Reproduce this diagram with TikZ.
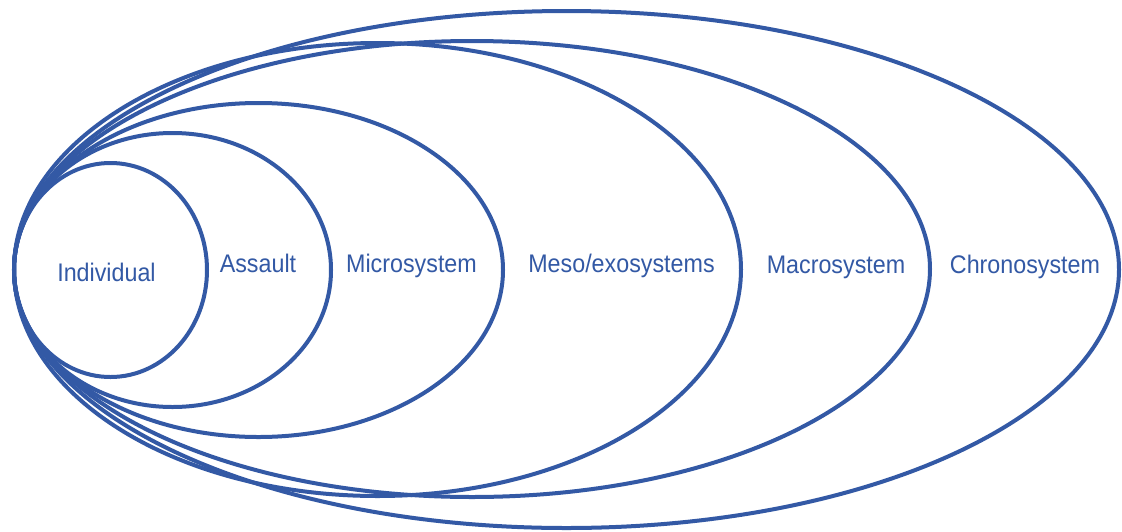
\documentclass[tikz,border=0pt]{standalone}
\usepackage{fontspec}
\setmainfont{Liberation Sans}
\definecolor{ringblue}{RGB}{51,89,165}
\begin{document}
\begin{tikzpicture}[x=1pt,y=-1pt,
  ring/.style={draw=ringblue, line width=4pt},
  lbl/.style={text=ringblue, font=\fontsize{24}{28}\selectfont, inner sep=0pt, anchor=base}]
\useasboundingbox (0,0) rectangle (1122,531);
\fill[white] (0,0) rectangle (1122,531);
% nested systems
\draw[ring] (566.5,269.5) ellipse [x radius=552.5pt, y radius=258.5pt];
\draw[ring] (472,269) ellipse [x radius=458pt, y radius=228pt];
\draw[ring] (377.5,269.5) ellipse [x radius=363.5pt, y radius=226.5pt];
\draw[ring] (258.5,270) ellipse [x radius=244.5pt, y radius=167pt];
\draw[ring] (172.5,270) ellipse [x radius=158.5pt, y radius=137pt];
\draw[ring] (110.5,270) ellipse [x radius=96.5pt, y radius=107pt];
% labels
\node[lbl] (ind) at (106.5,281) {\scalebox{0.97}[1.06]{Individual}};
\node[lbl] (ass) at (258,272) {\scalebox{0.97}[1.06]{Assault}};
\node[lbl] (mic) at (411.5,272) {\scalebox{0.97}[1.06]{Microsystem}};
\node[lbl] (mes) at (621.5,272) {\scalebox{0.97}[1.06]{Meso/exosystems}};
\node[lbl] (mac) at (836,273) {\scalebox{0.97}[1.06]{Macrosystem}};
\node[lbl] (chr) at (1025,273) {\scalebox{0.97}[1.06]{Chronosystem}};
\end{tikzpicture}
\end{document}
